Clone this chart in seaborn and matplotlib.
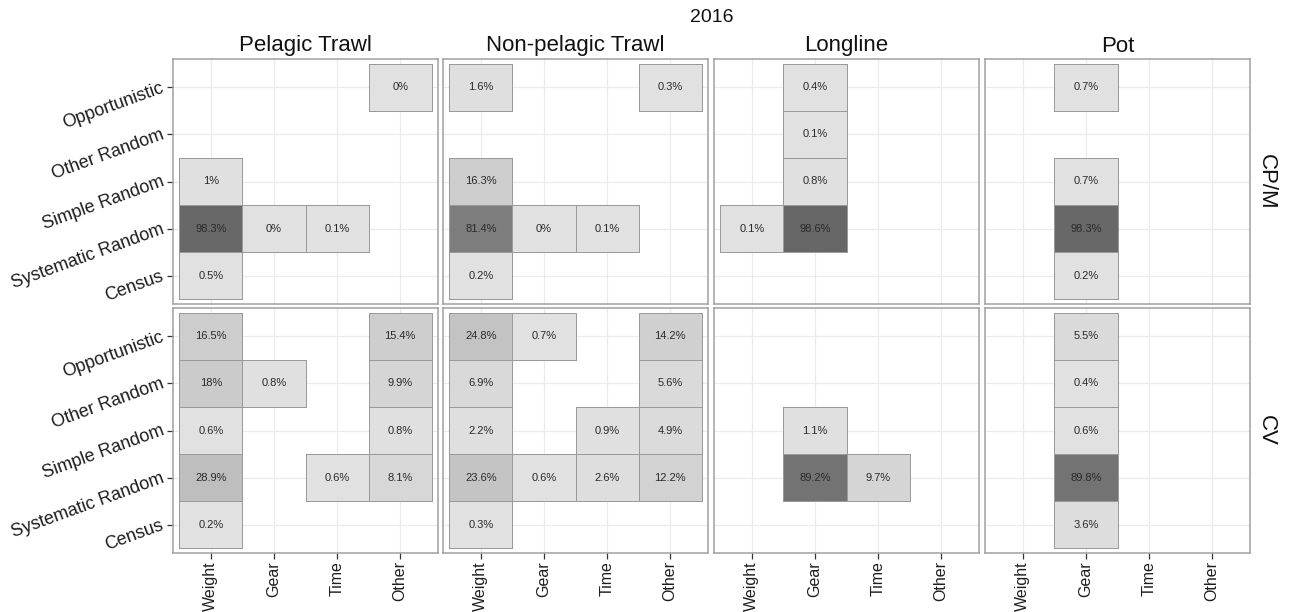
import numpy as np
import pandas as pd
import matplotlib
matplotlib.use("Agg")
import matplotlib.pyplot as plt
import seaborn as sns
from matplotlib.colors import LinearSegmentedColormap

# ---------------- data ----------------
year = "2016"
gears = ["Pelagic Trawl", "Non-pelagic Trawl", "Longline", "Pot"]
sectors = ["CP/M", "CV"]
methods = ["Weight", "Gear", "Time", "Other"]
designs = ["Opportunistic", "Other Random", "Simple Random", "Systematic Random", "Census"]

N = None
# rows: designs (top -> bottom), cols: methods
cpm_pelagic = [[N, N, N, 0.0], [N, N, N, N], [1.0, N, N, N], [98.3, 0.0, 0.1, N], [0.5, N, N, N]]
cpm_nonpelagic = [[1.6, N, N, 0.3], [N, N, N, N], [16.3, N, N, N], [81.4, 0.0, 0.1, N], [0.2, N, N, N]]
cpm_longline = [[N, 0.4, N, N], [N, 0.1, N, N], [N, 0.8, N, N], [0.1, 98.6, N, N], [N, N, N, N]]
cpm_pot = [[N, 0.7, N, N], [N, N, N, N], [N, 0.7, N, N], [N, 98.3, N, N], [N, 0.2, N, N]]

cv_pelagic = [[16.5, N, N, 15.4], [18.0, 0.8, N, 9.9], [0.6, N, N, 0.8], [28.9, N, 0.6, 8.1], [0.2, N, N, N]]
cv_nonpelagic = [[24.8, 0.7, N, 14.2], [6.9, N, N, 5.6], [2.2, N, 0.9, 4.9], [23.6, 0.6, 2.6, 12.2], [0.3, N, N, N]]
cv_longline = [[N, N, N, N], [N, N, N, N], [N, 1.1, N, N], [N, 89.2, 9.7, N], [N, N, N, N]]
cv_pot = [[N, 5.5, N, N], [N, 0.4, N, N], [N, 0.6, N, N], [N, 89.8, N, N], [N, 3.6, N, N]]

facet_data = {
    "CP/M": [cpm_pelagic, cpm_nonpelagic, cpm_longline, cpm_pot],
    "CV": [cv_pelagic, cv_nonpelagic, cv_longline, cv_pot],
}

# ---------------- style ----------------
sns.set_style("white")
plt.rcParams["font.family"] = ["Liberation Sans", "DejaVu Sans"]

W, H = 1290, 612
fig = plt.figure(figsize=(W / 100, H / 100), dpi=100)

cmap = LinearSegmentedColormap.from_list("tilegrey", ["#e1e1e1", "#666666"])
edge_col = "#9a9a9a"
col_left = [173, 443, 714, 985]
panel_w = 265
row_top = [59, 308]
panel_h = 245

for r, sector in enumerate(sectors):
    for c, gear in enumerate(gears):
        vals = np.array(facet_data[sector][c], dtype=float)
        df = pd.DataFrame(vals, index=designs, columns=methods)
        labels = np.where(np.isnan(vals), "", np.array([[f"{v:g}%" for v in row] for row in vals]))
        left = col_left[c] / W
        bottom = 1 - (row_top[r] + panel_h) / H
        ax = fig.add_axes([left, bottom, panel_w / W, panel_h / H])
        sns.heatmap(df, ax=ax, cmap=cmap, vmin=0, vmax=100, cbar=False,
                    annot=labels, fmt="", linewidths=0.5, linecolor=edge_col,
                    annot_kws=dict(color="#2a2a2a", fontsize=8))
        mesh = ax.collections[0]
        mesh.set_edgecolor([edge_col if np.isfinite(v) else (0, 0, 0, 0) for v in vals.ravel()])
        mesh.set_linewidth(0.5)
        ax.set_xlim(-0.1, len(methods) + 0.1)
        ax.set_ylim(len(designs) + 0.1, -0.1)
        for s in ax.spines.values():
            s.set_visible(True)
            s.set_color("#a0a0a0")
            s.set_linewidth(1.1)
        ax.set_axisbelow(True)
        ax.grid(True, color="#ebebeb", linewidth=0.9)
        ax.set_xticks(np.arange(len(methods)) + 0.5)
        ax.set_yticks(np.arange(len(designs)) + 0.5)
        ax.set_xlabel("")
        ax.set_ylabel("")
        if r == len(sectors) - 1:
            ax.set_xticklabels(methods, rotation=90, fontsize=11.5, color="#1e1e1e")
            ax.tick_params(axis="x", length=4, width=0.9, color="#333333", pad=2, bottom=True)
        else:
            ax.tick_params(axis="x", length=0, labelbottom=False)
        if c == 0:
            ax.set_yticklabels(designs, rotation=20, fontsize=13, color="#1e1e1e",
                               ha="right", va="center", rotation_mode="anchor")
            ax.tick_params(axis="y", length=4, width=0.9, color="#333333", pad=3, left=True)
        else:
            ax.tick_params(axis="y", length=0, labelleft=False)

# facet strips
for c, gear in enumerate(gears):
    fig.text((col_left[c] + panel_w / 2) / W, 1 - 46 / H, gear, ha="center", va="center",
             fontsize=16, color="#111111")
for r, sector in enumerate(sectors):
    fig.text(1266 / W, 1 - (row_top[r] + panel_h / 2) / H, sector, rotation=-90,
             ha="center", va="center", fontsize=16, color="#111111")

fig.text(712 / W, 1 - 18 / H, year, ha="center", va="center", fontsize=14, color="#111111")

fig.savefig("out.png", dpi=100)
